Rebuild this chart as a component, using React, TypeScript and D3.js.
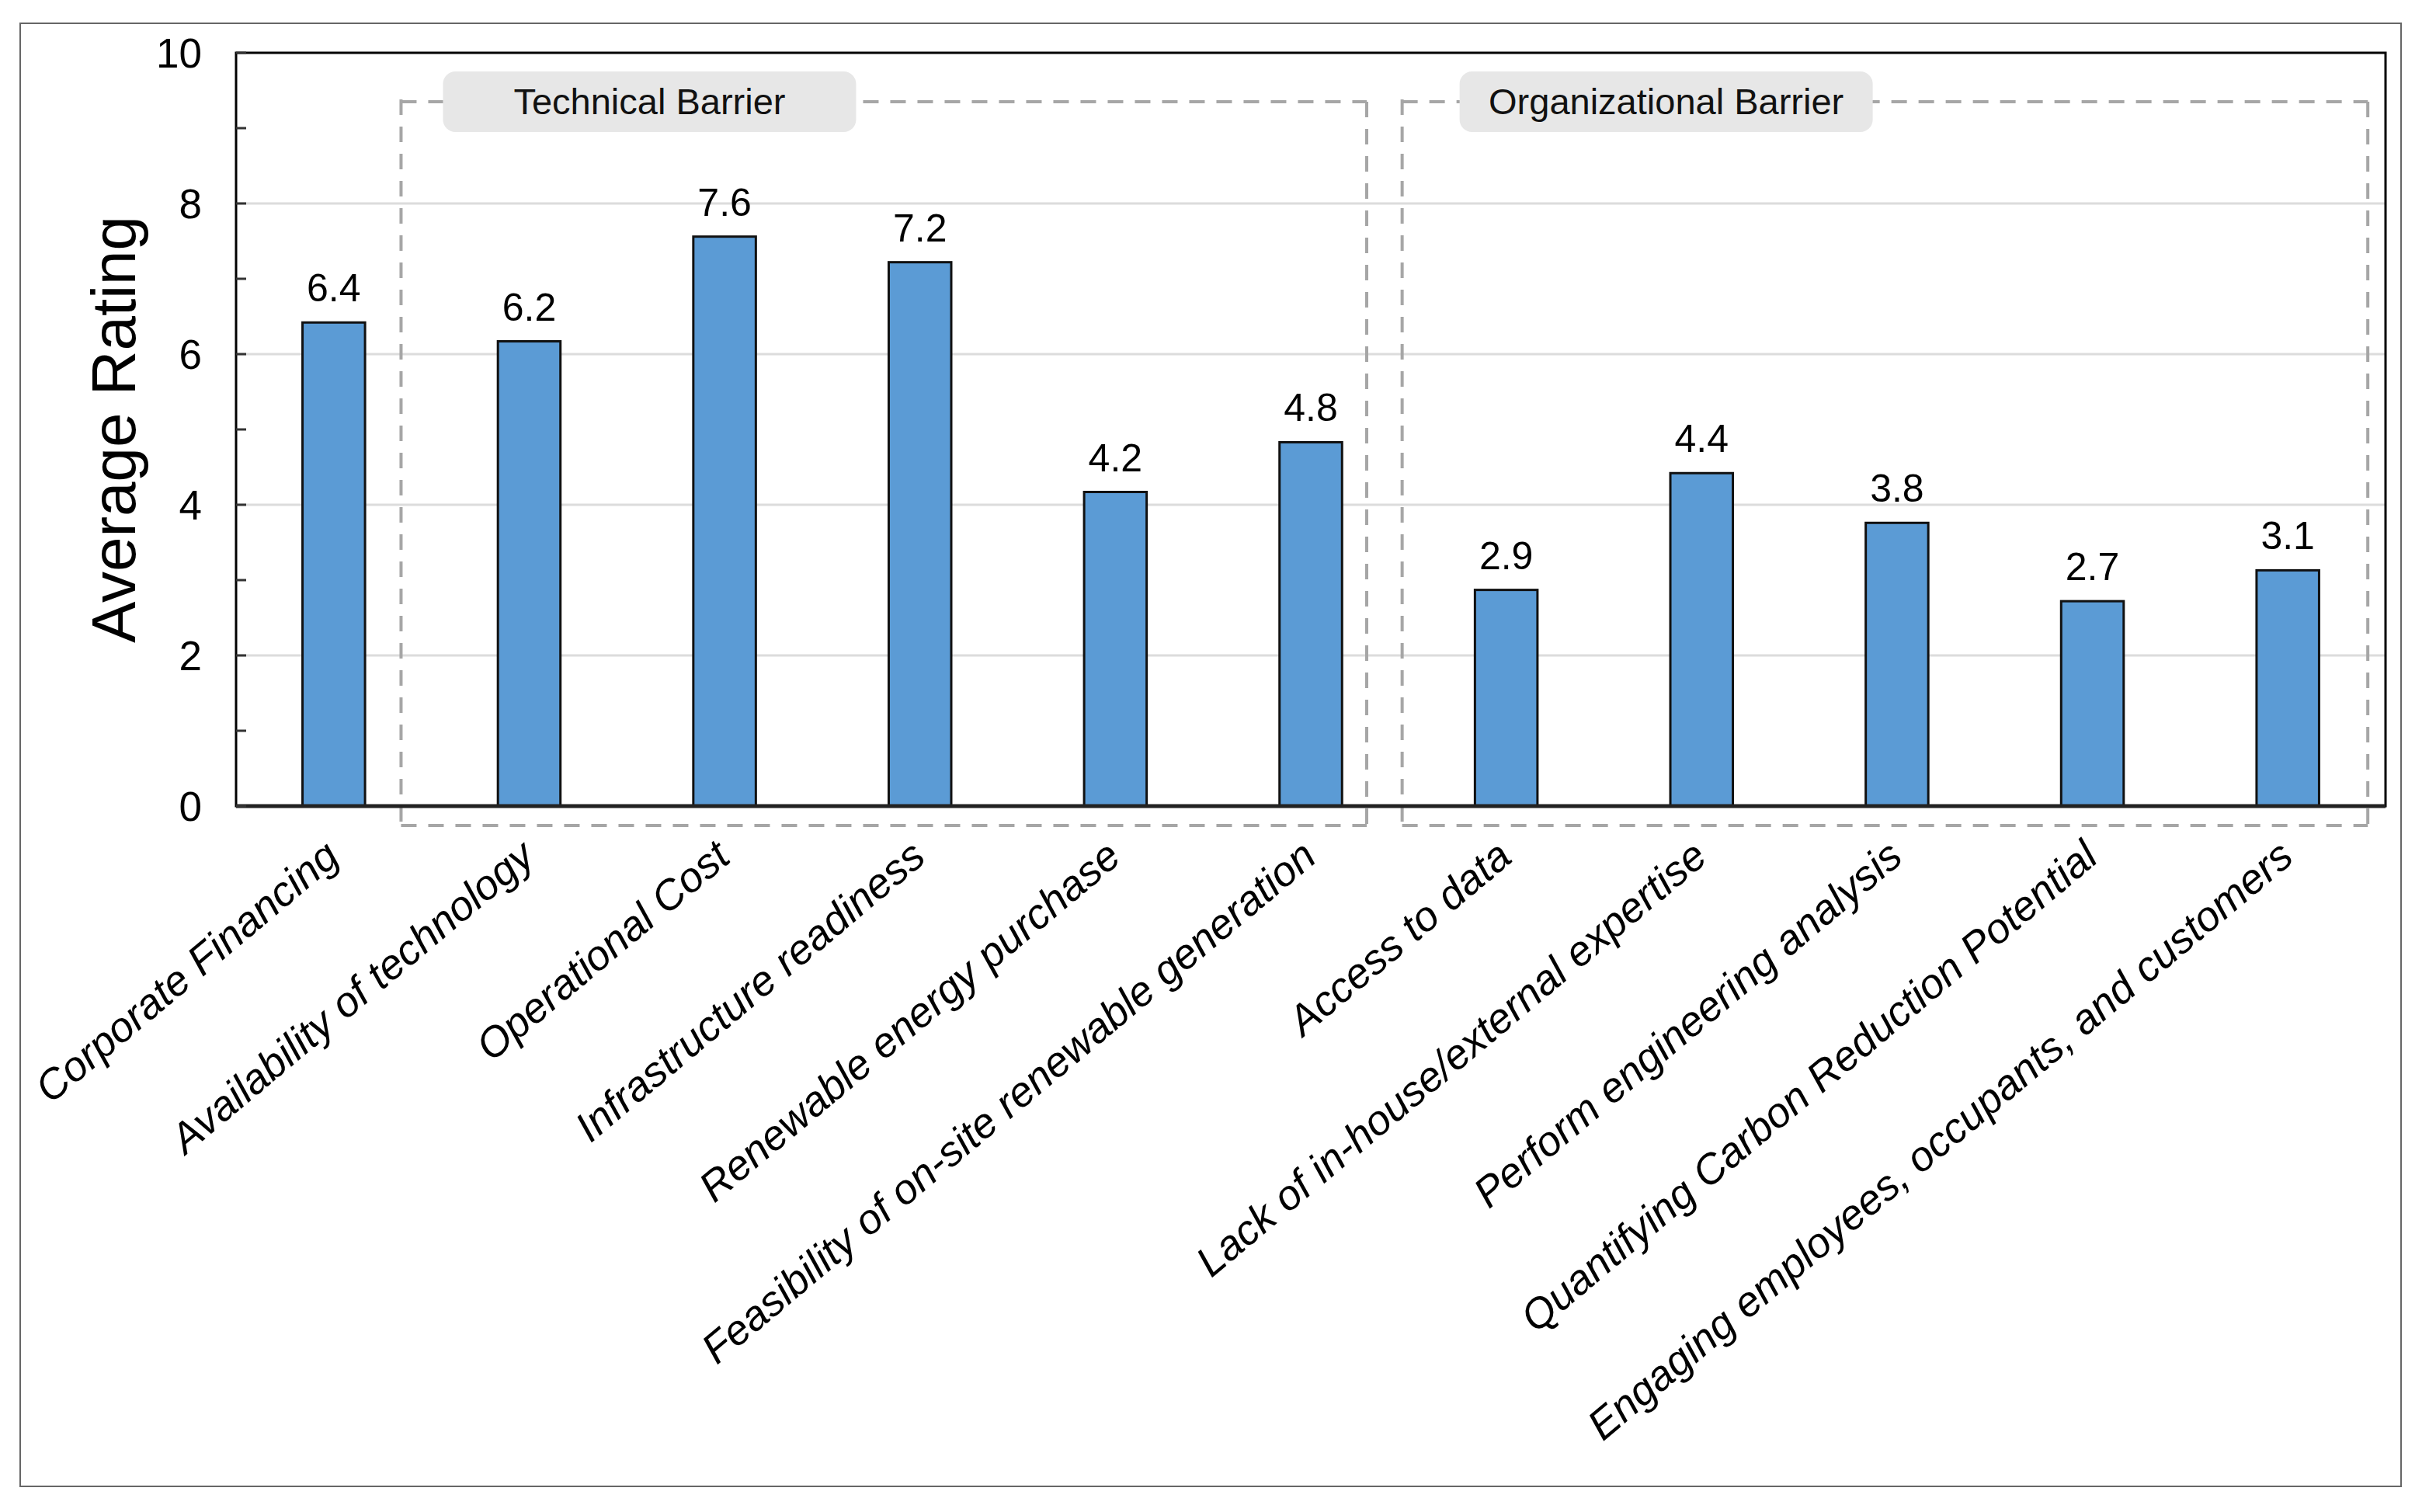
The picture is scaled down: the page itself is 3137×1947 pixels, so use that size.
import React from "react";
import * as d3 from "d3";

const categories = [
  "Corporate Financing",
  "Availability of technology",
  "Operational Cost",
  "Infrastructure readiness",
  "Renewable energy purchase",
  "Feasibility of on-site renewable generation",
  "Access to data",
  "Lack of in-house/external expertise",
  "Perform engineering analysis",
  "Quantifying Carbon Reduction Potential",
  "Engaging employees, occupants, and customers",
];
const values = [6.42, 6.17, 7.56, 7.22, 4.17, 4.83, 2.87, 4.42, 3.76, 2.72, 3.13];
const yMajorTicks = [0, 2, 4, 6, 8, 10];
const yMinorTicks = [1, 3, 5, 7, 9];
const groupNames = ["Technical Barrier", "Organizational Barrier"];
const groupFirst = [1, 6];
const groupLast = [5, 10];

const W = 3137;
const H = 1947;
const M = { left: 304, top: 68, right: 3072, bottom: 1038 };
// layout of the dashed group boxes (pixel offsets from bar centres)
const boxPadL = [165, 134];
const boxPadR = [72, 103];
const boxTop = 131;
const boxBottom = 1063;
const pillOffset = [54, 74];
const pillW = 532;
const pillTop = 92;
const pillH = 78;

const FONT = "'Liberation Sans', Arial, Helvetica, sans-serif";

export default function App() {
  const x = d3
    .scaleBand<string>()
    .domain(categories)
    .range([M.left, M.right])
    .paddingInner(0.68)
    .paddingOuter(0.34);
  const y = d3.scaleLinear().domain([0, 10]).range([M.bottom, M.top]);
  const bw = x.bandwidth();
  const cx = (i: number) => (x(categories[i]) as number) + bw / 2;

  return (
    <svg
      width={W}
      height={H}
      viewBox={`0 0 ${W} ${H}`}
      style={{ position: "absolute", left: 0, top: 0, background: "#fff" }}
    >
      <rect x={0} y={0} width={W} height={H} fill="#fff" />
      {/* outer frame */}
      <rect x={26} y={30} width={3092 - 26} height={1914 - 30} fill="none" stroke="#666" strokeWidth={2} />

      {/* gridlines */}
      {yMajorTicks
        .filter((t) => t > 0 && t < 10)
        .map((t) => (
          <line key={"g" + t} x1={M.left} x2={M.right} y1={y(t)} y2={y(t)} stroke="#dcdcdc" strokeWidth={3} />
        ))}

      {/* dashed group boxes */}
      {groupNames.map((g, gi) => {
        const x0 = cx(groupFirst[gi]) - boxPadL[gi];
        const x1 = cx(groupLast[gi]) + boxPadR[gi];
        const dash = "20 15";
        return (
          <g key={"box" + g} stroke="#a6a6a6" strokeWidth={4} strokeDasharray={dash} fill="none">
            <line x1={x0} y1={boxTop} x2={x1} y2={boxTop} />
            <line x1={x0} y1={boxBottom} x2={x1} y2={boxBottom} />
            <line x1={x0} y1={boxTop - 3} x2={x0} y2={boxBottom} />
            <line x1={x1} y1={boxTop} x2={x1} y2={boxBottom} />
          </g>
        );
      })}

      {/* bars */}
      {values.map((v, i) => (
        <rect
          key={"b" + i}
          x={x(categories[i])}
          y={y(v)}
          width={bw}
          height={y(0) - y(v)}
          fill="#5b9bd5"
          stroke="#111"
          strokeWidth={3}
        />
      ))}

      {/* value labels */}
      {values.map((v, i) => (
        <text
          key={"v" + i}
          x={cx(i)}
          y={y(v) - 27}
          textAnchor="middle"
          fontFamily={FONT}
          fontSize={50}
          fill="#000"
        >
          {v.toFixed(1)}
        </text>
      ))}

      {/* group pills */}
      {groupNames.map((g, gi) => {
        const x0 = cx(groupFirst[gi]) - boxPadL[gi] + pillOffset[gi];
        return (
          <g key={"pill" + g}>
            <rect x={x0} y={pillTop} width={pillW} height={pillH} rx={16} ry={16} fill="#e7e7e7" />
            <text
              x={x0 + pillW / 2}
              y={pillTop + pillH / 2 + 16}
              textAnchor="middle"
              fontFamily={FONT}
              fontSize={47}
              fill="#111"
            >
              {g}
            </text>
          </g>
        );
      })}

      {/* plot frame */}
      <rect
        x={M.left}
        y={M.top}
        width={M.right - M.left}
        height={M.bottom - M.top}
        fill="none"
        stroke="#000"
        strokeWidth={3}
      />
      <line x1={M.left} x2={M.right} y1={M.bottom} y2={M.bottom} stroke="#222" strokeWidth={5} />

      {/* y ticks (inward) */}
      {[...yMajorTicks, ...yMinorTicks].map((t) => (
        <line key={"t" + t} x1={M.left} x2={M.left + 13} y1={y(t)} y2={y(t)} stroke="#333" strokeWidth={3} />
      ))}
      {yMajorTicks.map((t) => (
        <text
          key={"yl" + t}
          x={260}
          y={y(t)}
          dy="0.36em"
          textAnchor="end"
          fontFamily={FONT}
          fontSize={53}
          fill="#000"
        >
          {t}
        </text>
      ))}

      {/* y title */}
      <text
        transform={`translate(174, ${(M.top + M.bottom) / 2}) rotate(-90)`}
        textAnchor="middle"
        fontFamily={FONT}
        fontSize={80}
        fill="#000"
      >
        Average Rating
      </text>

      {/* x category labels */}
      {categories.map((c, i) => (
        <text
          key={"xl" + i}
          transform={`translate(${cx(i) + 10}, ${1108}) rotate(-40)`}
          textAnchor="end"
          fontFamily={FONT}
          fontStyle="italic"
          fontSize={54}
          fill="#000"
        >
          {c}
        </text>
      ))}
    </svg>
  );
}
